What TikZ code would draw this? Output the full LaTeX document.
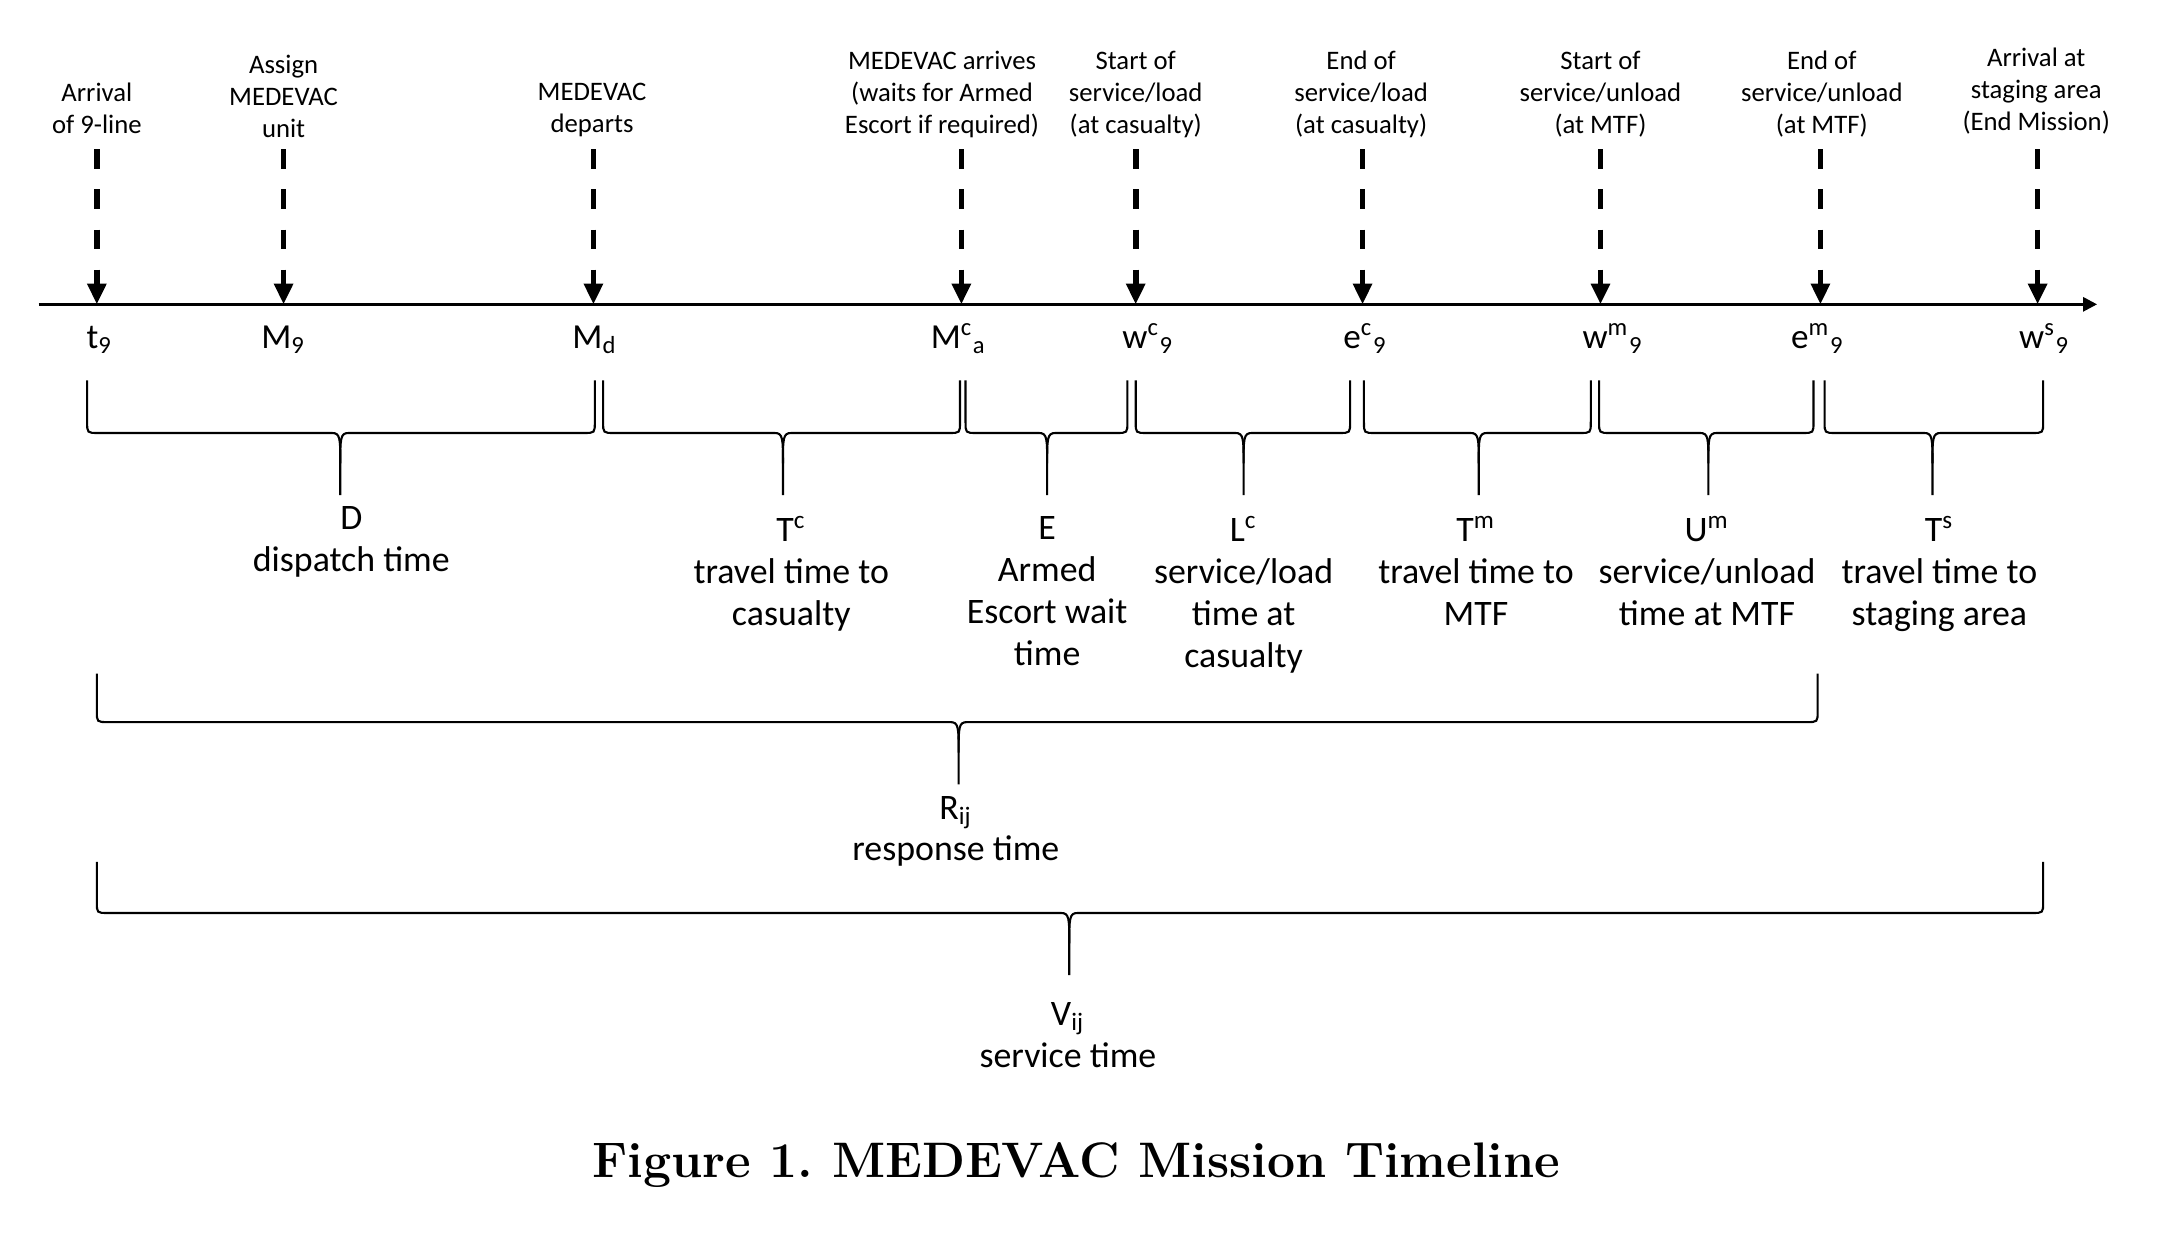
\documentclass[tikz,border=0pt]{standalone}
\usepackage{fontspec}
\newfontfamily\calfont{Carlito}
\usetikzlibrary{arrows.meta}

\tikzset{
  axisline/.style={line width=0.8pt,-{Triangle[length=4pt,width=4pt]}},
  evarrow/.style={line width=1.6pt,dash pattern=on 5.5pt off 5.9pt,-{Triangle[length=5.9pt,width=5.2pt]}},
  evtext/.style={font=\calfont\fontsize{7.6}{9.1}\selectfont,align=center,inner sep=0pt,anchor=south,execute at end node=\strut},
  ticktext/.style={font=\calfont\fontsize{10}{12}\selectfont,inner sep=0pt,anchor=base},
  spantext/.style={font=\calfont\fontsize{10.2}{11.9}\selectfont,align=center,inner sep=0pt,anchor=north,execute at begin node=\strut},
  spanbrace/.style={line width=0.6pt},
  captext/.style={font=\bfseries\fontsize{14.2}{17}\selectfont,inner sep=0pt,anchor=base}
}

% x1, x2, tip, top, line, bottom
\newcommand\timebrace[6]{%
  \draw[spanbrace] (#1,#4) -- (#1,#5-8) .. controls (#1,#5) .. (#1+8,#5) -- (#3-6,#5)
    .. controls (#3,#5) and (#3,#5+4) .. (#3,#5+22) -- (#3,#6);
  \draw[spanbrace] (#2,#4) -- (#2,#5-8) .. controls (#2,#5) .. (#2-8,#5) -- (#3+6,#5)
    .. controls (#3,#5) and (#3,#5+4) .. (#3,#5+22);
}

\begin{document}
\begin{tikzpicture}[x=0.13833mm,y=-0.13833mm]
\useasboundingbox (0,0) rectangle (1568,896);

% time axis
\coordinate (axl) at (28,220);
\coordinate (axr) at (1516,220);
\coordinate (arrtop) at (0,108);
\draw[axisline] (axl) -- (axr);

% events on the axis
\coordinate (tnine) at (70,220);
\coordinate (mnine) at (205,220);
\coordinate (mdep) at (429,220);
\coordinate (marr) at (695,220);
\coordinate (wcas) at (821,220);
\coordinate (ecas) at (985,220);
\coordinate (wmtf) at (1157,220);
\coordinate (emtf) at (1316,220);
\coordinate (wstg) at (1473,220);

\draw[evarrow] (tnine |- arrtop) -- (tnine);
\draw[evarrow] (mnine |- arrtop) -- (mnine);
\draw[evarrow] (mdep |- arrtop) -- (mdep);
\draw[evarrow] (marr |- arrtop) -- (marr);
\draw[evarrow] (wcas |- arrtop) -- (wcas);
\draw[evarrow] (ecas |- arrtop) -- (ecas);
\draw[evarrow] (wmtf |- arrtop) -- (wmtf);
\draw[evarrow] (emtf |- arrtop) -- (emtf);
\draw[evarrow] (wstg |- arrtop) -- (wstg);

% event texts
\node[evtext] (ltnine) at (70,104) {Arrival\\of 9-line};
\node[evtext] (lmnine) at (205,107) {Assign\\MEDEVAC\\unit};
\node[evtext] (lmdep) at (428,103) {MEDEVAC\\departs};
\node[evtext] (lmarr) at (681,104) {MEDEVAC arrives\\(waits for Armed\\Escort if required)};
\node[evtext] (lwcas) at (821,104) {Start of\\service/load\\(at casualty)};
\node[evtext] (lecas) at (984,104) {End of\\service/load\\(at casualty)};
\node[evtext] (lwmtf) at (1157,104) {Start of\\service/unload\\(at MTF)};
\node[evtext] (lemtf) at (1317,104) {End of\\service/unload\\(at MTF)};
\node[evtext] (lwstg) at (1472,102) {Arrival at\\staging area\\(End Mission)};

% symbols below the axis
\node[ticktext] (stnine) at (72,252) {t\textsubscript{9}};
\node[ticktext] (smnine) at (205,252) {M\textsubscript{9}};
\node[ticktext] (smdep) at (430,252) {M\textsubscript{d}};
\node[ticktext] (smarr) at (693,252) {M\textsuperscript{c}\textsubscript{a}};
\node[ticktext] (swcas) at (830,252) {w\textsuperscript{c}\textsubscript{9}};
\node[ticktext] (secas) at (987,252) {e\textsuperscript{c}\textsubscript{9}};
\node[ticktext] (swmtf) at (1166,252) {w\textsuperscript{m}\textsubscript{9}};
\node[ticktext] (semtf) at (1314,252) {e\textsuperscript{m}\textsubscript{9}};
\node[ticktext] (swstg) at (1478,252) {w\textsuperscript{s}\textsubscript{9}};

% durations
\timebrace{63}{430}{246}{275}{313}{358}
\timebrace{436}{694}{566}{275}{313}{358}
\timebrace{698}{815}{757}{275}{313}{358}
\timebrace{821}{976}{899}{275}{313}{358}
\timebrace{986}{1150}{1069}{275}{313}{358}
\timebrace{1156}{1311}{1235}{275}{313}{358}
\timebrace{1319}{1477}{1397}{275}{313}{358}
\timebrace{70}{1314}{693}{487}{522}{567}
\timebrace{70}{1477}{773}{623}{660}{705}

\node[spantext] (dD) at (254,366) {D\\dispatch time};
\node[spantext] (dTc) at (572,373) {T\textsuperscript{c}\\travel time to\\casualty};
\node[spantext] (dE) at (757,373) {E\\Armed\\Escort wait\\time};
\node[spantext] (dLc) at (899,373) {L\textsuperscript{c}\\service/load\\time at\\casualty};
\node[spantext] (dTm) at (1067,373) {T\textsuperscript{m}\\travel time to\\MTF};
\node[spantext] (dUm) at (1234,373) {U\textsuperscript{m}\\service/unload\\time at MTF};
\node[spantext] (dTs) at (1402,373) {T\textsuperscript{s}\\travel time to\\staging area};
\node[spantext] (dR) at (691,575) {R\textsubscript{ij}\\response time};
\node[spantext] (dV) at (772,724) {V\textsubscript{ij}\\service time};

% caption
\node[captext] (cap) at (778,851) {Figure 1.\ MEDEVAC Mission Timeline};
\end{tikzpicture}
\end{document}
